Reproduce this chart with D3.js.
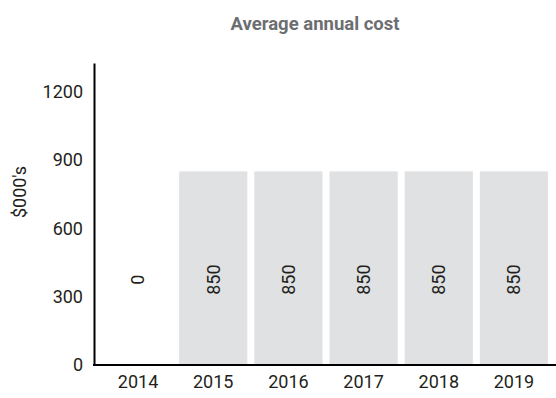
<!DOCTYPE html>
<html><head><meta charset="utf-8">
<script src="https://cdn.jsdelivr.net/npm/d3@7"></script>
<style>body{margin:0;background:#fff;} text{font-family:Roboto, "DejaVu Sans", sans-serif;}</style>
</head><body>
<svg id="c" width="556" height="398"></svg>
<script>
const categories = ["2014","2015","2016","2017","2018","2019"];
const values = [0,850,850,850,850,850];
const yTicks = [0,300,600,900,1200];
const title = "Average annual cost";
const yLabel = "$000's";

const svg = d3.select("#c");
const x = d3.scaleBand().domain(categories).range([100.5,551.5]).paddingInner(0.093).paddingOuter(0.046);
const y = d3.scaleLinear().domain([0,1326]).range([365,63]);

svg.selectAll("rect.bar").data(values).enter().append("rect")
  .attr("class","bar")
  .attr("x",(d,i)=>x(categories[i]))
  .attr("width",x.bandwidth())
  .attr("y",d=>y(d))
  .attr("height",d=>y(0)-y(d))
  .attr("fill","#e0e1e3");

// value labels
svg.selectAll("text.val").data(values).enter().append("text")
  .attr("class","val")
  .attr("transform",(d,i)=>`translate(${x(categories[i])+x.bandwidth()/2},${y(375)}) rotate(-90)`)
  .attr("text-anchor","middle").attr("dy","0.35em")
  .attr("font-size",18).attr("fill","#231f20")
  .text(d=>d);

// y axis
const ya = svg.append("g").attr("transform","translate(94,0)")
  .call(d3.axisLeft(y).tickValues(yTicks).tickSize(0).tickPadding(11).tickFormat(d3.format("d")));
ya.select(".domain").attr("stroke","#000").attr("stroke-width",2);
ya.selectAll("text").attr("font-size",18).attr("fill","#231f20").style("font-family","Roboto, sans-serif");

// x axis
const xa = svg.append("g").attr("transform","translate(0,365)")
  .call(d3.axisBottom(x).tickSize(0).tickPadding(10));
xa.select(".domain").remove();
xa.selectAll("text").attr("font-size",18).attr("fill","#231f20").style("font-family","Roboto, sans-serif");
svg.append("line").attr("x1",93).attr("x2",556).attr("y1",y(0)).attr("y2",y(0))
  .attr("stroke","#000").attr("stroke-width",2);

svg.append("text").attr("x",315).attr("y",30).attr("text-anchor","middle")
  .attr("font-size",18.5).attr("font-weight","bold").attr("fill","#6d6e71").text(title);

svg.append("text").attr("transform","translate(20,192) rotate(-90)")
  .attr("text-anchor","middle").attr("dy","0.35em")
  .attr("font-size",18).attr("fill","#231f20").text(yLabel);
</script>
</body></html>
